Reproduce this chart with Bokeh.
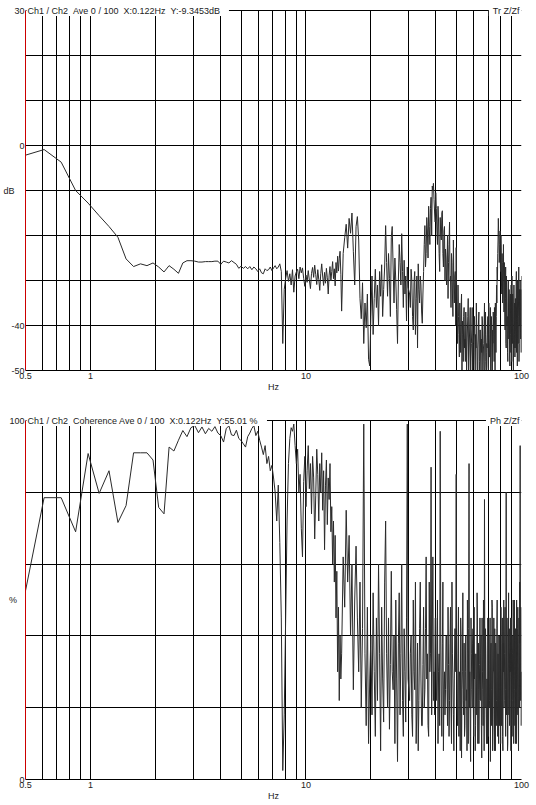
from bokeh.plotting import figure
from bokeh.models import Label, Range1d, FixedTicker, GlobalInlineStyleSheet
from bokeh.layouts import column
from bokeh.embed import file_html
from bokeh.resources import INLINE

# ---------------- data ----------------
DF = 0.122  # Hz, frequency resolution of the analyser (X:0.122Hz)
K_LO = list(range(4, 120))        # every bin, 0.49 - 14.5 Hz
K_MID = list(range(120, 246, 2))  # every 2nd bin, 14.6 - 29.8 Hz
K_HI = list(range(248, 821, 4))   # bins 248, 252, ... 820 (30.3 - 100 Hz)
K_HI2 = list(range(250, 819, 4))  # bins 250, 254, ... 818 (in between)

tf_db_lo = [
    -2.3, -0.9, -3.7, -10.0, -12.8, -15.6, -18.0, -20.4, -25.2, -26.9,
    -26.3, -26.7, -26.1, -27.0, -28.1, -26.7, -27.5, -28.4, -26.1, -25.6,
    -25.6, -25.7, -25.9, -25.9, -25.8, -25.8, -25.8, -25.7, -25.7, -26.4,
    -25.7, -25.9, -26.1, -25.6, -26.0, -26.4, -27.3, -26.8, -27.3, -26.9,
    -27.4, -26.9, -27.6, -27.0, -27.4, -28.0, -27.4, -28.3, -28.5, -27.4,
    -27.8, -27.6, -27.0, -27.8, -27.2, -26.7, -27.4, -27.0, -26.3, -28.0,
    -44.0, -32.0, -29.5, -27.8, -30.2, -28.5, -31.0, -27.6, -32.6, -29.0,
    -28.1, -27.5, -29.6, -27.0, -28.3, -27.2, -29.5, -31.3, -28.8, -30.4,
    -27.8, -29.9, -31.8, -28.4, -27.1, -29.3, -26.6, -28.7, -30.9, -27.6,
    -29.8, -32.2, -28.5, -26.3, -29.0, -31.1, -28.2, -30.6, -27.3, -29.4,
    -33.0, -28.8, -26.9, -30.1, -28.0, -25.8, -29.6, -27.4, -31.2, -26.0,
    -28.3, -24.6, -27.9, -25.2, -23.5, -28.6,
]
tf_db_mid = [
    -36.8, -24.0, -20.5, -17.5, -22.8, -16.2, -19.5, -15.0, -23.5, -31.0,
    -18.0, -15.8, -21.0, -34.0, -38.5, -30.5, -44.0, -35.0, -40.5, -33.0,
    -47.5, -49.0, -38.0, -29.0, -42.0, -34.0, -27.5, -36.0, -31.0, -40.0,
    -28.0, -33.5, -26.5, -38.0, -32.0, -27.0, -17.8, -26.0, -33.5, -24.0,
    -29.5, -38.0, -20.5, -18.0, -27.0, -35.0, -25.0, -30.0, -36.5, -44.0,
    -30.0, -22.0, -26.0, -31.0, -19.6, -28.0, -36.0, -25.5, -33.0, -29.0,
    -39.0, -27.0, -31.5,
]
tf_db_hi = [
    -33, -27.5, -38, -30.5, -42, -29, -26.3, -35, -31, -39.5,
    -28, -17.8, -24, -19, -13.5, -22, -11.5, -9.0, -8.4, -15,
    -10.5, -19, -13.5, -24, -16, -21, -14.5, -27, -18, -23,
    -31, -20, -26, -17, -29, -24, -33, -21, -35, -28,
    -22.7, -37, -31, -42, -35, -46, -33, -39, -48, -36,
    -43, -37, -50, -41, -34, -47, -39, -52, -44, -36,
    -49, -42, -38, -51, -45, -40, -53, -43, -37, -48,
    -41, -52, -46, -39, -50, -44, -35, -48, -42, -53,
    -45, -38, -51, -43, -47, -36, -49, -40, -52, -44,
    -39, -48, -42, -35, -46, -31, -27, -24, -16.2, -21,
    -25, -19, -28, -23, -33, -26, -30, -22, -37, -29,
    -41, -27, -45, -32, -38, -48, -30, -43, -35, -49,
    -33, -46, -39, -29, -44, -36, -50, -31, -42, -47,
    -34, -45, -28, -40, -49, -33, -38, -27, -44, -36,
    -30, -43, -35, -29,
]
tf_db_hi2 = [
    -36, -30, -41, -28, -34, -45, -32, -29, -37, -33,
    -22, -27, -16, -25, -18, -14, -20, -10, -12, -17,
    -14, -22, -17, -28, -20, -15, -24, -19, -30, -25,
    -27, -34, -22, -30, -36, -26, -38, -31, -29, -40,
    -33, -44, -38, -47, -40, -36, -50, -42, -38, -45,
    -48, -40, -45, -38, -51, -43, -36, -47, -41, -50,
    -44, -38, -47, -42, -35, -49, -45, -39, -52, -41,
    -47, -43, -38, -51, -45, -40, -50, -37, -46, -44,
    -40, -49, -35, -47, -42, -53, -38, -45, -41, -37,
    -44, -36, -50, -41, -38, -35, -30, -21, -19, -26,
    -22, -27, -20, -31, -24, -35, -28, -33, -26, -39,
    -34, -44, -29, -40, -46, -35, -39, -32, -47, -37,
    -42, -31, -48, -37, -33, -47, -40, -45, -35, -43,
    -41, -31, -46, -36, -30, -44, -35, -48, -32, -40,
    -38, -32, -46,
]

coh_lo = [
    49.4, 78.5, 78.5, 69.0, 90.8, 79.7, 86.0, 71.6, 76.3, 91.0,
    91.0, 91.0, 89.0, 75.8, 74.0, 92.6, 91.5, 94.5, 97.2, 95.5,
    98.0, 98.6, 96.6, 98.2, 96.3, 97.8, 97.0, 98.3, 96.5, 95.8,
    94.0, 97.8, 98.5, 96.0, 95.8, 97.3, 95.0, 94.4, 93.5, 92.6,
    95.5, 96.5, 97.8, 98.6, 95.8, 97.0, 94.5, 92.6, 90.5, 93.0,
    88.0, 90.0, 86.0, 87.5, 84.0, 80.0, 72.0, 82.0, 66.0, 45.0,
    2.5, 18.0, 45.0, 72.0, 88.0, 95.0, 98.0, 97.0, 99.0, 93.0,
    88, 92, 80, 85, 70, 62, 83, 90, 76, 86,
    93, 81, 88, 74, 90, 84, 67, 79, 92, 85,
    72, 88, 80, 91, 75, 86, 64, 82, 89, 71,
    84, 78, 88, 69, 76, 60, 72, 55, 68, 45,
    58, 30, 48, 22, 40, 28,
]
coh_mid = [
    35, 62, 48, 75, 55, 68, 40, 60, 25, 50,
    65, 45, 30, 55, 20, 42, 99, 35, 15, 48,
    10, 28, 40, 18, 52, 30, 12, 45, 22, 60,
    35, 8, 48, 28, 16, 55, 72, 35, 20, 45,
    14, 32, 58, 30, 25, 40, 10, 50, 28, 5,
    38, 52, 18, 35, 60, 22, 12, 42, 30, 16,
    45, 99, 28,
]
coh_hi = [
    22, 40, 12, 30, 55, 20, 8, 42, 28, 15,
    48, 25, 62, 35, 12, 30, 87, 40, 22, 18,
    45, 28, 10, 35, 97, 20, 38, 8, 30, 25,
    40, 15, 32, 22, 48, 10, 35, 18, 28, 42,
    85, 20, 35, 12, 28, 45, 6, 30, 22, 38,
    15, 40, 25, 50, 10, 88, 30, 5, 35, 20,
    42, 12, 28, 8, 35, 18, 45, 25, 10, 32,
    22, 40, 6, 30, 15, 38, 78, 20, 35, 10,
    28, 45, 12, 32, 20, 5, 38, 25, 48, 15,
    30, 18, 42, 8, 35, 22, 50, 12, 28, 40,
    15, 32, 10, 38, 22, 45, 8, 30, 20, 35,
    48, 12, 80, 25, 40, 10, 33, 18, 42, 22,
    30, 8, 45, 20, 35, 12, 40, 25, 50, 15,
    28, 42, 10, 35, 20, 48, 15, 38, 25, 55,
    93, 22, 40, 30,
]
coh_hi2 = [
    35, 18, 50, 25, 10, 38, 22, 55, 15, 32,
    20, 42, 28, 15, 55, 35, 18, 62, 30, 45,
    22, 50, 30, 15, 40, 12, 55, 25, 18, 40,
    25, 48, 12, 38, 20, 55, 28, 8, 42, 30,
    35, 15, 48, 30, 8, 40, 25, 52, 18, 12,
    30, 22, 8, 35, 42, 20, 12, 45, 25, 38,
    20, 48, 35, 15, 28, 52, 10, 38, 22, 45,
    35, 15, 45, 25, 50, 8, 30, 42, 18, 28,
    10, 30, 40, 22, 45, 35, 15, 50, 8, 30,
    45, 8, 25, 38, 15, 42, 20, 35, 10, 22,
    40, 25, 48, 15, 30, 12, 38, 50, 22, 45,
    25, 35, 18, 45, 8, 28, 52, 40, 15, 35,
    45, 28, 15, 40, 22, 50, 10, 35, 25, 42,
    10, 35, 50, 18, 42, 28, 8, 45, 20, 38,
    30, 48, 15,
]

X_GRID = [0.6, 0.7, 0.8, 0.9, 1, 2, 3, 4, 5, 6, 7, 8, 9,
          10, 20, 30, 40, 50, 60, 70, 80, 90, 100]
X_TICKS = [0.5, 1, 10, 100]
TF_GRID = [-50, -40, -30, -20, -10, 0, 10, 20, 30]
TF_TICKS = [30, 0, -40, -50]
TF_UNIT = ("dB", -10)
COH_GRID = [0, 20, 40, 60, 80, 100]
COH_TICKS = [100, 0]
COH_UNIT = ("%", 50)

NB = "\u00a0"
TITLE_TF = "Ch1 / Ch2 " + NB + "Ave 0 / 100 " + NB + "X:0.122Hz " + NB + "Y:-9.3453dB"
TITLE_COH = ("Ch1 / Ch2 " + NB + "Coherence Ave 0 / 100 " + NB + "X:0.122Hz "
             + NB + "Y:55.01 %")

# ---------------- style ----------------
FONT = "Liberation Sans"
FS = "9px"
TXT = "#222222"
RED = "#cc0000"
LINE = "#2a2a2a"


def merge(*pairs):
    pts = []
    for ks, vs in pairs:
        if len(ks) != len(vs):
            raise ValueError("length mismatch %d vs %d" % (len(ks), len(vs)))
        pts.extend(zip(ks, vs))
    pts.sort()
    return [DF * k for k, _ in pts], [v for _, v in pts]


freq_tf, tf_db = merge((K_LO, tf_db_lo), (K_MID, tf_db_mid),
                       (K_HI, tf_db_hi), (K_HI2, tf_db_hi2))
freq_coh, coh = merge((K_LO, coh_lo), (K_MID, coh_mid),
                      (K_HI, coh_hi), (K_HI2, coh_hi2))


def lbl(**kw):
    base = dict(text_font=FONT, text_font_size=FS, text_color=TXT)
    base.update(kw)
    return Label(**base)


def overrides(ticks, unit=None, unit_pad=0):
    d = {}
    for t in ticks:
        d[t] = str(t)
        d[str(t)] = str(t)
    if unit is not None:
        name, at = unit
        s = name + NB * unit_pad
        d[at] = s
        d[str(at)] = s
    return d


def panel(freq, vals, y_lo, y_hi, y_grid, y_ticks, unit, unit_pad, title, tag,
          top, strip, plot_h, bottom):
    # the frame also holds a thin strip above the plotting area for the header
    y_top = y_hi + (y_hi - y_lo) * strip / plot_h
    p = figure(x_axis_type="log", x_range=Range1d(0.5, 100),
               y_range=Range1d(y_lo, y_top),
               frame_width=496, frame_height=plot_h + strip,
               min_border_left=25, min_border_right=15,
               min_border_top=top, min_border_bottom=bottom,
               output_backend="svg", toolbar_location=None,
               outline_line_color=None,
               background_fill_color="white", border_fill_color="white")
    # grids
    xg, yg = p.xgrid[0], p.ygrid[0]
    xg.ticker = FixedTicker(ticks=X_GRID)
    yg.ticker = FixedTicker(ticks=y_grid)
    for g in (xg, yg):
        g.grid_line_color = "black"
        g.grid_line_width = 1
        g.grid_line_alpha = 1.0
    try:
        xg.cross_bounds = (y_lo, y_hi)
    except Exception:
        xg.visible = False
        n = len(X_GRID)
        p.segment(x0=X_GRID, y0=[y_lo] * n, x1=X_GRID, y1=[y_hi] * n,
                  line_color="black", line_width=1)
    # x axis
    xa = p.xaxis[0]
    xa.ticker = FixedTicker(ticks=X_TICKS)
    xa.major_label_overrides = overrides(X_TICKS)
    xa.axis_line_color = "black"
    xa.major_tick_out = 0
    xa.major_tick_in = 0
    xa.minor_tick_out = 0
    xa.minor_tick_in = 0
    xa.major_label_standoff = 2
    xa.major_label_text_font = FONT
    xa.major_label_text_font_size = FS
    xa.major_label_text_color = TXT
    xa.axis_label = "Hz"
    xa.axis_label_standoff = 0
    xa.axis_label_text_font = FONT
    xa.axis_label_text_font_size = FS
    xa.axis_label_text_font_style = "normal"
    xa.axis_label_text_color = TXT
    # y axis (the unit sits in the tick-label column, as in the original)
    ya = p.yaxis[0]
    ya.bounds = (y_lo, y_hi)
    ya.ticker = FixedTicker(ticks=y_ticks + [unit[1]])
    ya.major_label_overrides = overrides(y_ticks, unit, unit_pad)
    ya.axis_line_color = RED
    ya.major_tick_out = 0
    ya.major_tick_in = 0
    ya.minor_tick_out = 0
    ya.minor_tick_in = 0
    ya.major_label_standoff = 1
    ya.major_label_text_font = FONT
    ya.major_label_text_font_size = FS
    ya.major_label_text_color = TXT

    p.line(freq, vals, line_color=LINE, line_width=1)

    p.add_layout(lbl(x=0.5, y=y_hi, text=title, text_align="left",
                     text_baseline="alphabetic", x_offset=1, y_offset=0,
                     background_fill_color="white",
                     padding=dict(left=1, right=9, top=1, bottom=0)))
    p.add_layout(lbl(x=100, y=y_hi, text=tag, text_align="right",
                     text_baseline="alphabetic", x_offset=0, y_offset=0,
                     background_fill_color="white",
                     padding=dict(left=4, right=2, top=1, bottom=0)))
    return p


p1 = panel(freq_tf, tf_db, -50, 30, TF_GRID, TF_TICKS, TF_UNIT, 4, TITLE_TF,
           "Tr Z/Zf", 0, 10, 360, 30)
p2 = panel(freq_coh, coh, 0, 100, COH_GRID, COH_TICKS, COH_UNIT, 3, TITLE_COH,
           "Ph Z/Zf", 10, 10, 359, 25)

page = column(p1, p2, spacing=0,
              stylesheets=[GlobalInlineStyleSheet(css="body{margin:0;}")])

open("out.html", "w").write(file_html(page, INLINE))
